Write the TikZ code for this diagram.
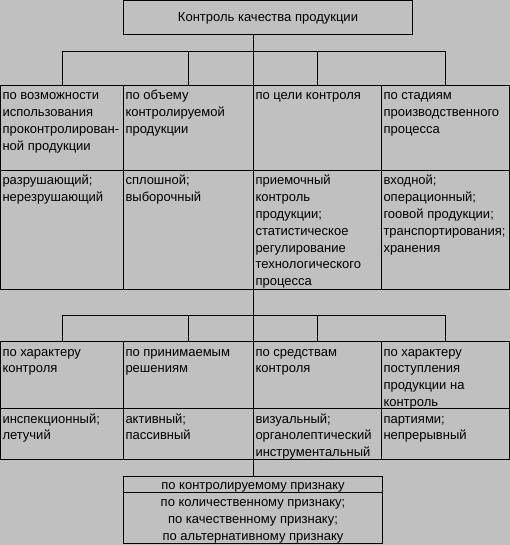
\documentclass[tikz,border=0pt]{standalone}
\usepackage{fontspec}
\setmainfont{Liberation Sans}
\usepackage{tikz}

\definecolor{fon}{RGB}{192,192,192}
\newcommand{\cellbox}[3]{\parbox[t][#2][t]{#1}{\raggedright\rule{0pt}{14.5pt}#3}}
\newcommand{\midbox}[4]{\parbox[t][#2][t]{#1}{\centering\rule{0pt}{#3}#4}}

\tikzset{
  cell/.style={draw,anchor=north west,inner xsep=2pt,inner ysep=0pt,
    font=\fontsize{13}{16.8}\selectfont},
  box/.style={draw,anchor=north west,inner sep=0pt,
    font=\fontsize{13}{17.2}\selectfont}
}

\begin{document}
\begin{tikzpicture}[x=1pt,y=-1pt,line width=1pt]

\fill[fon] (0,0) rectangle (510,545);
\useasboundingbox (0,0) rectangle (510,545);

\node[box] (kach) at (123,0) {\midbox{289pt}{34pt}{21pt}{Контроль качества продукции}};

% first table
\node[cell] (h1) at (0,85) {\cellbox{119pt}{85pt}{по возможности\\использования\\проконтролирован-\\ной продукции}};
\node[cell] (h2) at (123,85) {\cellbox{126pt}{85pt}{по объему\\контролируемой\\продукции}};
\node[cell] (h3) at (253,85) {\cellbox{124pt}{85pt}{по цели контроля}};
\node[cell] (h4) at (381,85) {\cellbox{124pt}{85pt}{по стадиям\\производственного\\процесса}};

\node[cell] (v1) at (0,170) {\cellbox{119pt}{119pt}{разрушающий;\\нерезрушающий}};
\node[cell] (v2) at (123,170) {\cellbox{126pt}{119pt}{сплошной;\\выборочный}};
\node[cell] (v3) at (253,170) {\cellbox{124pt}{119pt}{приемочный\\контроль\\продукции;\\статистическое\\регулирование\\технологического\\процесса}};
\node[cell] (v4) at (381,170) {\cellbox{124pt}{119pt}{входной;\\операционный;\\гоовой продукции;\\транспортирования;\\хранения}};

% second table
\node[cell] (k1) at (0,341) {\cellbox{119pt}{67pt}{по характеру\\контроля}};
\node[cell] (k2) at (123,341) {\cellbox{126pt}{67pt}{по принимаемым\\решениям}};
\node[cell] (k3) at (253,341) {\cellbox{124pt}{67pt}{по средствам\\контроля}};
\node[cell] (k4) at (381,341) {\cellbox{124pt}{67pt}{по характеру\\поступления\\продукции на\\контроль}};

\node[cell] (w1) at (0,408) {\cellbox{119pt}{51pt}{инспекционный;\\летучий}};
\node[cell] (w2) at (123,408) {\cellbox{126pt}{51pt}{активный;\\пассивный}};
\node[cell] (w3) at (253,408) {\cellbox{124pt}{51pt}{визуальный;\\органолептический\\инструментальный}};
\node[cell] (w4) at (381,408) {\cellbox{124pt}{51pt}{партиями;\\непрерывный}};

\node[box] (priz) at (123,476) {\midbox{259pt}{16pt}{13pt}{по контролируемому признаку}};
\node[box] (vidy) at (123,492) {\midbox{259pt}{51pt}{14pt}{по количественному признаку;\\по качественному признаку;\\по альтернативному признаку}};

% connectors
\coordinate (bar1) at (0,52);
\coordinate (bar2) at (0,315);

\draw (kach.south -| h3.north west) -- (h3.north west);
\draw (h1.north |- bar1) -- (h4.north |- bar1);
\draw (h1.north |- bar1) -- (h1.north);
\draw (h2.north |- bar1) -- (h2.north);
\draw (h3.north |- bar1) -- (h3.north);
\draw (h4.north |- bar1) -- (h4.north);

\draw (v3.south west) -- (k3.north west);
\draw (k1.north |- bar2) -- (k4.north |- bar2);
\draw (k1.north |- bar2) -- (k1.north);
\draw (k2.north |- bar2) -- (k2.north);
\draw (k3.north |- bar2) -- (k3.north);
\draw (k4.north |- bar2) -- (k4.north);

\draw (w3.south west) -- (w3.south west |- priz.north);

\end{tikzpicture}
\end{document}
